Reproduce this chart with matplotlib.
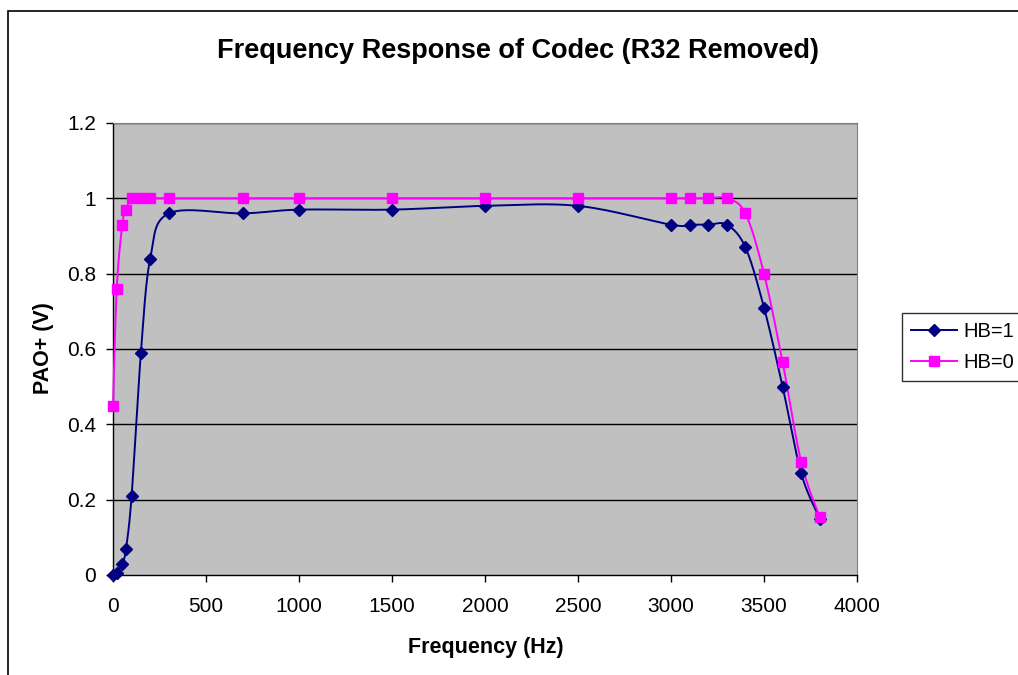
import numpy as np
import matplotlib
matplotlib.use("Agg")
import matplotlib.pyplot as plt
from matplotlib.patches import Rectangle
from matplotlib.lines import Line2D

freq = [0, 20, 50, 70, 100, 150, 200, 300, 700, 1000, 1500, 2000, 2500,
        3000, 3100, 3200, 3300, 3400, 3500, 3600, 3700, 3800]
hb1 = [0.0, 0.005, 0.03, 0.07, 0.21, 0.59, 0.84, 0.96, 0.96, 0.97, 0.97, 0.98, 0.98,
       0.93, 0.93, 0.93, 0.93, 0.87, 0.71, 0.50, 0.27, 0.15]
hb0 = [0.45, 0.76, 0.93, 0.97, 1.0, 1.0, 1.0, 1.0, 1.0, 1.0, 1.0, 1.0, 1.0,
       1.0, 1.0, 1.0, 1.0, 0.96, 0.80, 0.565, 0.30, 0.153]
xticks = [0, 500, 1000, 1500, 2000, 2500, 3000, 3500, 4000]
yticks = [0, 0.2, 0.4, 0.6, 0.8, 1.0, 1.2]
ytick_labels = ["0", "0.2", "0.4", "0.6", "0.8", "1", "1.2"]

plt.rcParams['font.family'] = ['Liberation Sans', 'DejaVu Sans']

W, H = 1018, 675
fig = plt.figure(figsize=(W/100, H/100), dpi=100)
ax = fig.add_axes([113/W, 1-575/H, (857-113)/W, (575-123)/H])
ax.set_facecolor('#C0C0C0')
ax.set_xlim(0, 4000)
ax.set_ylim(0, 1.2)

# figure frame
fig.add_artist(Rectangle((8/W, -0.1), 1.2, 1-11/H+0.1, transform=fig.transFigure,
                         fill=False, edgecolor='black', linewidth=1.2))


def excel_smooth(xs, ys, sx=744/4000, sy=452/1.2, n=30):
    P = np.column_stack([np.array(xs) * sx, np.array(ys) * sy])
    out = [P[0]]
    m = len(P)
    for i in range(m - 1):
        p0 = P[i - 1] if i > 0 else P[i]
        p1 = P[i]
        p2 = P[i + 1]
        p3 = P[i + 2] if i + 2 < m else P[i + 1]
        c1 = p1 + (p2 - p0) / 6
        c2 = p2 - (p3 - p1) / 6
        t = np.linspace(0, 1, n)[1:, None]
        b = (1-t)**3 * p1 + 3*(1-t)**2*t*c1 + 3*(1-t)*t**2*c2 + t**3*p2
        out.extend(b)
    out = np.array(out)
    return out[:, 0] / sx, out[:, 1] / sy


for yv in yticks[1:]:
    ax.axhline(yv, color='black', linewidth=1.0, zorder=1)

bx, by = excel_smooth(freq, hb1)
ax.plot(bx, by, color='#000080', linewidth=1.4, zorder=3, clip_on=False)
ax.plot(freq, hb1, linestyle='none', marker='D', markersize=6.5, color='#000080', zorder=4, clip_on=False)
px, py = excel_smooth(freq, hb0)
ax.plot(px, py, color='#FF00FF', linewidth=1.4, zorder=3, clip_on=False)
ax.plot(freq, hb0, linestyle='none', marker='s', markersize=6.5, color='#FF00FF', zorder=4, clip_on=False)

for s in ['top', 'right']:
    ax.spines[s].set_color('#808080')
for s in ['left', 'bottom']:
    ax.spines[s].set_color('black')
    ax.spines[s].set_linewidth(1.0)

ax.set_xticks(xticks)
ax.set_xticklabels([str(v) for v in xticks])
ax.set_yticks(yticks)
ax.set_yticklabels(ytick_labels)
ax.tick_params(direction='out', length=5, width=1, labelsize=15)
ax.tick_params(axis='x', pad=11)
ax.tick_params(axis='y', pad=7)

fig.text(518/W, 1-58/H, 'Frequency Response of Codec (R32 Removed)', fontsize=19.5,
         fontweight='bold', ha='center', va='baseline')
fig.text(486/W, 1-653/H, 'Frequency (Hz)', fontsize=15.5, fontweight='bold',
         ha='center', va='baseline')
fig.text(44/W, 1-348/H, 'PAO+ (V)', fontsize=15.5, fontweight='bold',
         ha='center', va='center', rotation=90)

handles = [Line2D([], [], color='#000080', marker='D', markersize=6.5, linewidth=1.4),
           Line2D([], [], color='#FF00FF', marker='s', markersize=6.5, linewidth=1.4)]
leg = fig.legend(handles, ['HB=1', 'HB=0'], loc='upper left',
                 bbox_to_anchor=(902/W, 1-313/H), fontsize=14.5, frameon=True,
                 fancybox=False, edgecolor='black', handlelength=2.3, borderaxespad=0,
                 borderpad=0.45, labelspacing=0.6, handletextpad=0.3)
leg.get_frame().set_linewidth(1.0)

fig.savefig('out.png', dpi=100)
